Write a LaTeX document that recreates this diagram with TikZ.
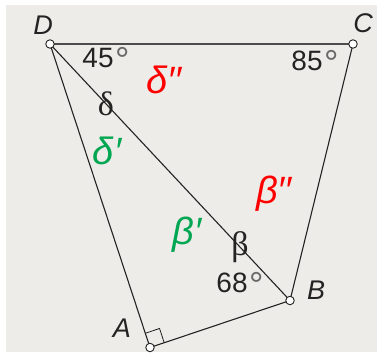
\documentclass[tikz,border=0pt]{standalone}
\usepackage{fontspec}
\usetikzlibrary{calc}
\newfontfamily\lab{Liberation Sans}
\newfontfamily\labser{Liberation Serif}
\definecolor{bg}{RGB}{237,236,232}
\definecolor{lbred}{RGB}{255,0,0}
\definecolor{lbgreen}{RGB}{0,166,81}
\definecolor{ink}{RGB}{35,35,35}
\definecolor{degc}{RGB}{105,105,105}
\newcommand{\dg}{\kern1.5pt\raisebox{-5pt}{\fontsize{36}{36}\selectfont\textcolor{degc}{°}}}
\begin{document}
\begin{tikzpicture}[x=1pt,y=-1pt,
  vertex/.style={circle,draw=ink,fill=white,line width=0.9pt,inner sep=0pt,minimum size=8.5pt},
  side/.style={draw=ink,line width=1.1pt},
  topside/.style={draw=gray!60!black,line width=1.8pt},
  vname/.style={inner sep=0pt,font=\lab\itshape\fontsize{27}{27}\selectfont,text=ink},
  angtxt/.style={inner sep=0pt,font=\lab\fontsize{28}{28}\selectfont,text=ink},
  grk/.style={inner sep=0pt,font=\lab\itshape\fontsize{38}{38}\selectfont},
  grkser/.style={inner sep=0pt,font=\labser\fontsize{34}{34}\selectfont,text=ink}]
\useasboundingbox (0,0) rectangle (377,358);
\fill[bg] (6,5) rectangle (377,352);
% sides
\coordinate (D) at (50,44);
\coordinate (C) at (353,44);
\coordinate (B) at (290,300.5);
\coordinate (A) at (150,347.5);
\draw[topside] (D) -- (C);
\draw[side] (C) -- (B) -- (A) -- (D) -- (B);
% right angle at A
\coordinate (P1) at ($(A)!15pt!(D)$);
\coordinate (P2) at ($(A)!15pt!(B)$);
\draw[side,line width=0.8pt] (P1) -- ($(P1)+(P2)-(A)$) -- (P2);
% vertices
\node[vertex] (vD) at (D) {};
\node[vertex] (vC) at (C) {};
\node[vertex] (vB) at (B) {};
\node[vertex] (vA) at (A) {};
% vertex names
\node[vname] (lD) at (43,25) {D};
\node[vname] (lC) at (363,23) {C};
\node[vname] (lB) at (316,290) {B};
\node[vname] (lA) at (122,328) {A};
% angles
\node[angtxt] (a45) at (106,60) {45\dg};
\node[angtxt] (a85) at (315,63) {85\dg};
\node[angtxt] (a68) at (240,285) {68\dg};
% greek
\node[grk,text=lbred] (d2) at (164,80) {δ′′};
\node[grkser] (d0) at (106,104) {δ};
\node[grk,text=lbgreen] (d1) at (107,151) {δ′};
\node[grk,text=lbred] (b2) at (274,194) {β′′};
\node[grk,text=lbgreen] (b1) at (187,235) {β′};
\node[grkser] (b0) at (240,247) {β};
\end{tikzpicture}
\end{document}
